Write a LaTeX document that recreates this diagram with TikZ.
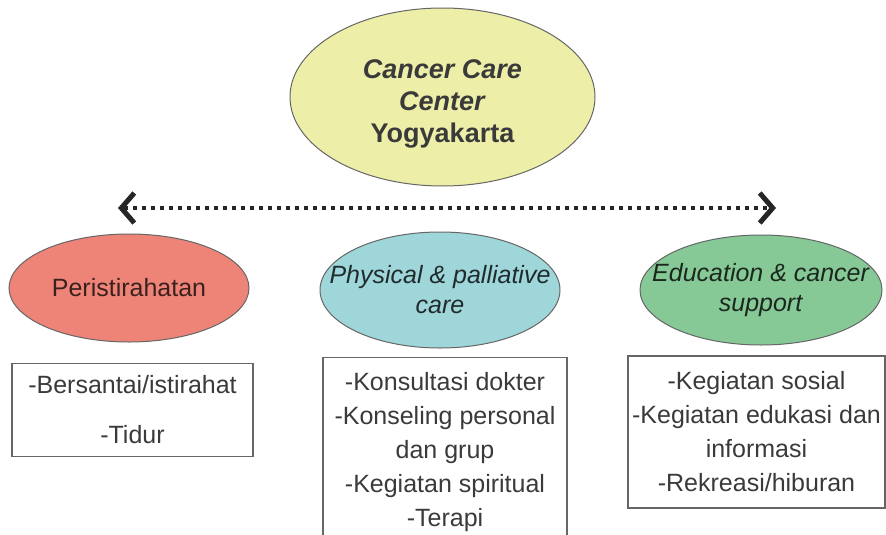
\documentclass[tikz,border=0pt]{standalone}
\usepackage{fontspec}
\setmainfont{Liberation Sans}
\usetikzlibrary{shapes.geometric, arrows.meta}

\definecolor{centerfill}{HTML}{EDEFA8}
\definecolor{restfill}{HTML}{EE8477}
\definecolor{carefill}{HTML}{9FD6DA}
\definecolor{supportfill}{HTML}{86C896}
\definecolor{inkgray}{HTML}{3A3A3A}

\tikzset{
  bubble/.style={ellipse, draw=black!60, line width=1pt, inner xsep=-40pt, inner ysep=-20pt,
    align=center, font=\fontsize{25}{30}\selectfont},
  listbox/.style={draw=black!60, line width=1.8pt, inner sep=0pt, align=center,
    text=inkgray, font=\fontsize{25}{34}\selectfont},
  barb/.tip={Straight Barb[length=13pt, width=30pt, line width=5pt]}
}

\begin{document}
\begin{tikzpicture}[x=1pt, y=-1pt]
    \useasboundingbox (0,0) rectangle (886,535);
    \clip (0,0) rectangle (886,535);

    % The centre on top
    \node[bubble, fill=centerfill, minimum width=305, minimum height=178, text=inkgray,
      text height=96pt, font=\bfseries\fontsize{27}{32}\selectfont] (ccc) at (442.5, 97)
      {\textit{Cancer Care}\\\textit{Center}\\Yogyakarta};

    % Dotted double arrow under it
    \coordinate (lefttip) at (118, 208);
    \coordinate (righttip) at (776, 208);
    \draw[black!85, line width=4.5pt, dash pattern=on 4.5pt off 4.5pt, barb-barb]
      (lefttip) -- (righttip);

    % The three services
    \node[bubble, fill=restfill, minimum width=240, minimum height=108,
      text=restfill!25!black] (rest) at (129, 288) {Peristirahatan};
    \node[bubble, fill=carefill, minimum width=240, minimum height=116,
      text=carefill!20!black] (care) at (440, 290) {\textit{Physical \& palliative}\\\textit{care}};
    \node[bubble, fill=supportfill, minimum width=242, minimum height=110,
      text=supportfill!20!black] (support) at (761, 290) {\textit{Education \& cancer}\\\textit{support}};

    % Activities in each service
    \node[listbox, minimum width=241, minimum height=93] (restlist) at (132.5, 410)
      {-Bersantai/istirahat\\[16pt]-Tidur};
    \node[listbox, minimum width=244, minimum height=189] (carelist) at (445, 452)
      {-Konsultasi dokter\\-Konseling personal\\dan grup\\-Kegiatan spiritual\\-Terapi};
    \node[listbox, minimum width=257, minimum height=152] (supportlist) at (756.5, 432)
      {-Kegiatan sosial\\-Kegiatan edukasi dan\\informasi\\-Rekreasi/hiburan};
\end{tikzpicture}
\end{document}
